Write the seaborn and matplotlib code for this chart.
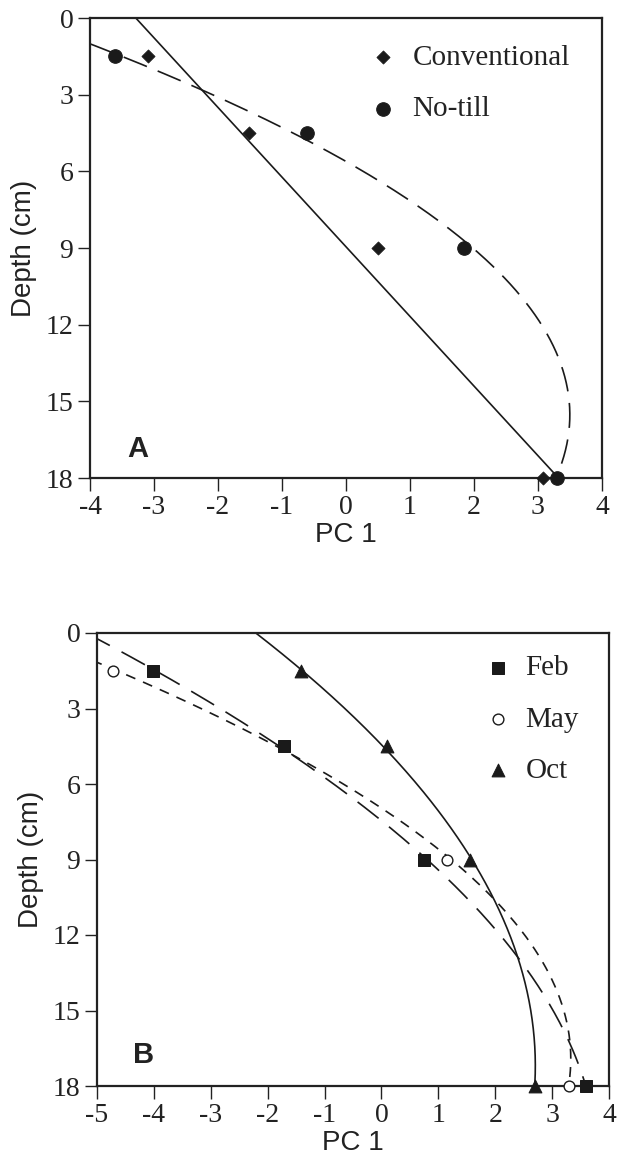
import numpy as np
import pandas as pd
import matplotlib
matplotlib.use("Agg")
import matplotlib.pyplot as plt
import seaborn as sns

sns.set_theme(style="white")
plt.rcParams["font.family"] = ["Liberation Serif", "DejaVu Serif"]

# ---------------- data ----------------
depth = [1.5, 4.5, 9, 18]
# Panel A
conv_pc1 = [-3.09, -1.52, 0.50, 3.08]
notill_pc1 = [-3.61, -0.61, 1.85, 3.30]
# Panel B
feb_pc1 = [-4.01, -1.71, 0.75, 3.60]
may_pc1 = [-4.71, -1.72, 1.15, 3.30]
oct_pc1 = [-1.42, 0.09, 1.55, 2.70]

xticks_a = [-4, -3, -2, -1, 0, 1, 2, 3, 4]
xticks_b = [-5, -4, -3, -2, -1, 0, 1, 2, 3, 4]
yticks = [0, 3, 6, 9, 12, 15, 18]

W, H = 623, 1164
fig = plt.figure(figsize=(W / 100, H / 100), dpi=100)
INK = "#1a1a1a"


def fit_curve(xv, deg, d0, d1):
    coef = np.polyfit(depth, xv, deg)
    dd = np.linspace(d0, d1, 300)
    return pd.DataFrame({"pc1": np.polyval(coef, dd), "depth": dd})


def style_axes(ax, xlim, xt, letter, lx, ly):
    ax.set_xlim(*xlim)
    ax.set_ylim(18, 0)
    ax.set_xticks(xt)
    ax.set_yticks(yticks)
    ax.set_xticklabels([str(v) for v in xt])
    ax.set_yticklabels([str(v) for v in yticks])
    for s in ax.spines.values():
        s.set_visible(True)
        s.set_color("#222222")
        s.set_linewidth(1.6)
    ax.tick_params(axis="both", direction="out", length=9, width=1.0,
                   color="#222222", labelsize=20, labelcolor="#222222",
                   bottom=True, left=True, pad=3)
    ax.set_xlabel("PC 1", family="Liberation Sans", fontsize=20,
                  color="#222222", labelpad=2)
    ax.set_ylabel("Depth (cm)", family="Liberation Sans", fontsize=20,
                  color="#222222", labelpad=6)
    ax.text(lx, ly, letter, transform=ax.transAxes,
            family="Liberation Sans", fontweight="bold", fontsize=21,
            color="#222222", ha="left", va="baseline")
    ax.grid(False)


# ---------------- Panel A ----------------
axA = fig.add_axes([90 / W, 1 - 478 / H, 512 / W, 460 / H])

cA = fit_curve(conv_pc1, 1, 0, 18)
sns.lineplot(data=cA, x="pc1", y="depth", sort=False, estimator=None,
             color=INK, lw=1.2, ax=axA)
nA = fit_curve(notill_pc1, 2, 0, 18)
sns.lineplot(data=nA, x="pc1", y="depth", sort=False, estimator=None,
             color=INK, lw=1.2, ax=axA)
axA.lines[-1].set_dashes((15, 7))

sns.scatterplot(x=conv_pc1, y=depth, marker="D", s=45, color=INK,
                edgecolor=INK, label="Conventional", ax=axA, zorder=5,
                clip_on=False)
sns.scatterplot(x=notill_pc1, y=depth, marker="o", s=95, color=INK,
                edgecolor=INK, label="No-till", ax=axA, zorder=5,
                clip_on=False)
style_axes(axA, (-4, 4), xticks_a, "A", 0.072, 0.046)
axA.legend(loc="upper left", bbox_to_anchor=(0.51, 0.98), frameon=False,
           fontsize=21, labelspacing=0.85, handletextpad=0.5,
           handlelength=1.0, borderaxespad=0.2, labelcolor="#222222")

# ---------------- Panel B ----------------
axB = fig.add_axes([97 / W, 1 - 1086 / H, 512 / W, 453 / H])

oB = fit_curve(oct_pc1, 2, 0, 18)
sns.lineplot(data=oB, x="pc1", y="depth", sort=False, estimator=None,
             color=INK, lw=1.2, ax=axB)
fB = fit_curve(feb_pc1, 2, 0, 18)
sns.lineplot(data=fB, x="pc1", y="depth", sort=False, estimator=None,
             color=INK, lw=1.2, ax=axB)
axB.lines[-1].set_dashes((16, 8))
mB = fit_curve(may_pc1, 2, 0, 18)
sns.lineplot(data=mB, x="pc1", y="depth", sort=False, estimator=None,
             color=INK, lw=1.2, ax=axB)
axB.lines[-1].set_dashes((6, 5))

sns.scatterplot(x=may_pc1, y=depth, marker="o", s=60, facecolor="white",
                edgecolor=INK, linewidth=1.0, label="May", ax=axB,
                zorder=5, clip_on=False)
sns.scatterplot(x=feb_pc1, y=depth, marker="s", s=80, color=INK,
                edgecolor=INK, label="Feb", ax=axB, zorder=6,
                clip_on=False)
sns.scatterplot(x=oct_pc1, y=depth, marker="^", s=85, color=INK,
                edgecolor=INK, label="Oct", ax=axB, zorder=6,
                clip_on=False)
style_axes(axB, (-5, 4), xticks_b, "B", 0.070, 0.051)
h, l = axB.get_legend_handles_labels()
order = [l.index("Feb"), l.index("May"), l.index("Oct")]
axB.legend([h[i] for i in order], [l[i] for i in order],
           loc="upper left", bbox_to_anchor=(0.72, 0.99), frameon=False,
           fontsize=21, labelspacing=0.85, handletextpad=0.45,
           handlelength=1.0, borderaxespad=0.2, labelcolor="#222222")

fig.savefig("out.png", dpi=100, facecolor="white")
